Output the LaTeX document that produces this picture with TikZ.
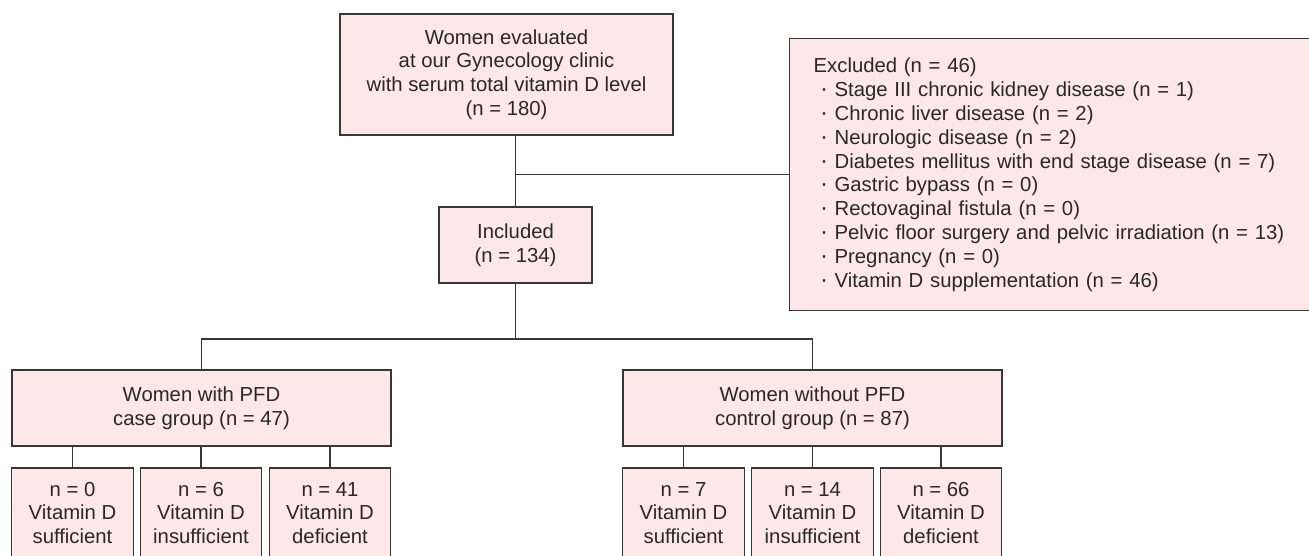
\documentclass[tikz,border=0pt]{standalone}
\usepackage{fontspec}
\setmainfont{Liberation Sans}
\definecolor{boxfill}{RGB}{253,231,231}
\definecolor{linec}{RGB}{55,55,55}
\definecolor{textc}{RGB}{40,40,40}
\begin{document}
\begin{tikzpicture}[x=1pt,y=-1pt,
  box/.style={draw=linec, fill=boxfill, line width=1.3pt, text=textc,
    font=\fontsize{20.3}{23.8}\selectfont, align=center, inner sep=0pt},
  conn/.style={draw=linec, line width=1.3pt},
  small/.style={box, minimum width=121.5, minimum height=90}]
\useasboundingbox (0,0) rectangle (1309,555);

\node[box, minimum width=333, minimum height=121] (top) at (506.5,74.5)
  {Women evaluated\\at our Gynecology clinic\\with serum total vitamin D level\\(n = 180)};
\node[box, minimum width=153, minimum height=76] (inc) at (515.5,245)
  {Included\\(n = 134)};
\node[box, anchor=north west, align=left, text width=475pt, inner xsep=24pt,
      inner ysep=0pt, minimum height=272] (excl) at (789,38)
  {Excluded (n = 46)\\
   \hspace*{6.5pt}{\fontsize{24}{23.8}\selectfont·}\hspace{6.5pt}Stage III chronic kidney disease (n = 1)\\
   \hspace*{6.5pt}{\fontsize{24}{23.8}\selectfont·}\hspace{6.5pt}Chronic liver disease (n = 2)\\
   \hspace*{6.5pt}{\fontsize{24}{23.8}\selectfont·}\hspace{6.5pt}Neurologic disease (n = 2)\\
   \hspace*{6.5pt}{\fontsize{24}{23.8}\selectfont·}\hspace{6.5pt}Diabetes mellitus with end stage disease (n = 7)\\
   \hspace*{6.5pt}{\fontsize{24}{23.8}\selectfont·}\hspace{6.5pt}Gastric bypass (n = 0)\\
   \hspace*{6.5pt}{\fontsize{24}{23.8}\selectfont·}\hspace{6.5pt}Rectovaginal fistula (n = 0)\\
   \hspace*{6.5pt}{\fontsize{24}{23.8}\selectfont·}\hspace{6.5pt}Pelvic floor surgery and pelvic irradiation (n = 13)\\
   \hspace*{6.5pt}{\fontsize{24}{23.8}\selectfont·}\hspace{6.5pt}Pregnancy (n = 0)\\
   \hspace*{6.5pt}{\fontsize{24}{23.8}\selectfont·}\hspace{6.5pt}Vitamin D supplementation (n = 46)};

\node[box, minimum width=379, minimum height=76] (case) at (201.5,408)
  {Women with PFD\\case group (n = 47)};
\node[box, minimum width=379, minimum height=76] (ctrl) at (812.5,408)
  {Women without PFD\\control group (n = 87)};

\node[small] (c1) at (72.5,513) {n = 0\\Vitamin D\\sufficient};
\node[small] (c2) at (201,513) {n = 6\\Vitamin D\\insufficient};
\node[small] (c3) at (330,513) {n = 41\\Vitamin D\\deficient};
\node[small] (k1) at (683.5,513) {n = 7\\Vitamin D\\sufficient};
\node[small] (k2) at (812.5,513) {n = 14\\Vitamin D\\insufficient};
\node[small] (k3) at (941,513) {n = 66\\Vitamin D\\deficient};

\coordinate (br) at (515.5,339);

\draw[conn] (top.south -| inc.north) -- (inc.north);
\draw[conn] (excl.west) -- (excl.west -| inc.north);
\draw[conn] (inc.south) -- (br);
\draw[conn] (case.north) |- (br) -| (ctrl.north);
\foreach \s in {c1,c2,c3} \draw[conn] (case.south -| \s.north) -- (\s.north);
\foreach \s in {k1,k2,k3} \draw[conn] (ctrl.south -| \s.north) -- (\s.north);
\end{tikzpicture}
\end{document}
